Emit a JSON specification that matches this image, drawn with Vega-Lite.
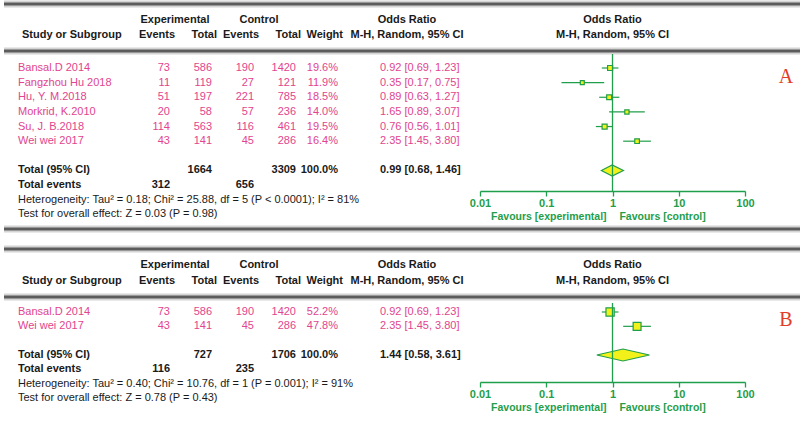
{
  "$schema": "https://vega.github.io/schema/vega-lite/v6.json",
  "padding": 0,
  "background": "white",
  "spacing": 0,
  "bounds": "flush",
  "datasets": {
    "headers": [
      {"row": "h1", "col": "e_events", "text": "Experimental"},
      {"row": "h1", "col": "c_events", "text": "Control"},
      {"row": "h1", "col": "ci", "text": "Odds Ratio"},
      {"row": "h1", "col": "plot", "text": "Odds Ratio"},
      {"row": "h2", "col": "study", "text": "Study or Subgroup"},
      {"row": "h2", "col": "e_events", "text": "Events"},
      {"row": "h2", "col": "e_total", "text": "Total"},
      {"row": "h2", "col": "c_events", "text": "Events"},
      {"row": "h2", "col": "c_total", "text": "Total"},
      {"row": "h2", "col": "weight", "text": "Weight"},
      {"row": "h2", "col": "ci", "text": "M-H, Random, 95% CI"},
      {"row": "h2", "col": "plot", "text": "M-H, Random, 95% CI"}
    ],
    "studiesA": [
      {"study": "Bansal.D 2014", "e_events": 73, "e_total": 586, "c_events": 190, "c_total": 1420, "weight": 0.196, "or": 0.92, "lo": 0.69, "hi": 1.23},
      {"study": "Fangzhou Hu 2018", "e_events": 11, "e_total": 119, "c_events": 27, "c_total": 121, "weight": 0.119, "or": 0.35, "lo": 0.17, "hi": 0.75},
      {"study": "Hu, Y. M.2018", "e_events": 51, "e_total": 197, "c_events": 221, "c_total": 785, "weight": 0.185, "or": 0.89, "lo": 0.63, "hi": 1.27},
      {"study": "Morkrid, K.2010", "e_events": 20, "e_total": 58, "c_events": 57, "c_total": 236, "weight": 0.14, "or": 1.65, "lo": 0.89, "hi": 3.07},
      {"study": "Su, J. B.2018", "e_events": 114, "e_total": 563, "c_events": 116, "c_total": 461, "weight": 0.195, "or": 0.76, "lo": 0.56, "hi": 1.01},
      {"study": "Wei wei 2017", "e_events": 43, "e_total": 141, "c_events": 45, "c_total": 286, "weight": 0.164, "or": 2.35, "lo": 1.45, "hi": 3.8}
    ],
    "summaryA": [
      {"row": "total", "label": "Total (95% CI)", "e_total": 1664, "c_total": 3309, "weight": 1.0, "or": 0.99, "lo": 0.68, "hi": 1.46},
      {"row": "events", "label": "Total events", "e_events": 312, "c_events": 656}
    ],
    "notesA": [
      {"row": "het", "text": "Heterogeneity: Tau² = 0.18; Chi² = 25.88, df = 5 (P < 0.0001); I² = 81%"},
      {"row": "test", "text": "Test for overall effect: Z = 0.03 (P = 0.98)"}
    ],
    "studiesB": [
      {"study": "Bansal.D 2014", "e_events": 73, "e_total": 586, "c_events": 190, "c_total": 1420, "weight": 0.522, "or": 0.92, "lo": 0.69, "hi": 1.23},
      {"study": "Wei wei 2017", "e_events": 43, "e_total": 141, "c_events": 45, "c_total": 286, "weight": 0.478, "or": 2.35, "lo": 1.45, "hi": 3.8}
    ],
    "summaryB": [
      {"row": "total", "label": "Total (95% CI)", "e_total": 727, "c_total": 1706, "weight": 1.0, "or": 1.44, "lo": 0.58, "hi": 3.61},
      {"row": "events", "label": "Total events", "e_events": 116, "c_events": 235}
    ],
    "notesB": [
      {"row": "het", "text": "Heterogeneity: Tau² = 0.40; Chi² = 10.76, df = 1 (P = 0.001); I² = 91%"},
      {"row": "test", "text": "Test for overall effect: Z = 0.78 (P = 0.43)"}
    ]
  },
  "vconcat": [
    {
      "width": 800,
      "height": 53,
      "data": {"name": "headers"},
      "layer": [
        {"data": {"values": [{"row": "top"}, {"row": "hr"}]}, "mark": {"type": "rule", "color": "#d4d4d4", "strokeWidth": 7},
          "encoding": {"y": {"field": "row", "type": "nominal", "scale": {"type": "point", "domain": ["top", "h1", "h2", "hr"], "range": [3, 50], "padding": 0}, "axis": null}}},
        {"data": {"values": [{"row": "top"}, {"row": "hr"}]}, "mark": {"type": "rule", "color": "#5c5c5c", "strokeWidth": 3},
          "encoding": {"y": {"field": "row", "type": "nominal", "axis": null}}},
        {"layer": [
          {"transform": [{"filter": "datum.col === 'study'"}], "mark": {"type": "text", "align": "left", "fontWeight": "bold", "color": "#1a1a1a"},
            "encoding": {"x": {"field": "col", "type": "nominal", "scale": {"type": "point", "domain": ["study", "ci"], "range": [18, 403], "padding": 0}, "axis": null}, "y": {"field": "row", "type": "nominal", "axis": null}, "text": {"field": "text"}}},
          {"transform": [{"filter": "datum.col === 'ci'"}], "mark": {"type": "text", "align": "center", "fontWeight": "bold", "color": "#1a1a1a"},
            "encoding": {"x": {"field": "col", "type": "nominal", "axis": null}, "y": {"field": "row", "type": "nominal", "axis": null}, "text": {"field": "text"}}}
        ]},
        {"layer": [
          {"transform": [{"filter": "datum.row === 'h1' && indexof(['e_events','c_events'], datum.col) >= 0"}], "mark": {"type": "text", "align": "center", "fontWeight": "bold", "color": "#1a1a1a"},
            "encoding": {"x": {"field": "col", "type": "nominal", "scale": {"type": "point", "domain": ["e_events", "e_total", "c_events", "c_total", "weight"], "range": [171, 339], "padding": 0}, "axis": null}, "y": {"field": "row", "type": "nominal", "axis": null}, "text": {"field": "text"}}},
          {"transform": [{"filter": "datum.row === 'h2' && indexof(['e_events','e_total','c_events','c_total','weight'], datum.col) >= 0"}], "mark": {"type": "text", "align": "right", "fontWeight": "bold", "color": "#1a1a1a"},
            "encoding": {"x": {"field": "col", "type": "nominal", "axis": null}, "y": {"field": "row", "type": "nominal", "axis": null}, "text": {"field": "text"}}}
        ]},
        {"transform": [{"filter": "datum.col === 'plot'"}], "mark": {"type": "text", "align": "center", "fontWeight": "bold", "color": "#1a1a1a"},
          "encoding": {"x": {"datum": 1, "type": "quantitative", "scale": {"type": "log", "domain": [0.01, 100], "range": [476, 741], "nice": false}, "axis": null}, "y": {"field": "row", "type": "nominal", "axis": null}, "text": {"field": "text"}}}
      ],
      "resolve": {"scale": {"x": "independent"}}
    },
    {
      "width": 800,
      "height": 137,
      "layer": [
        {"data": {"values": [{"row": "end"}]}, "mark": {"type": "rule", "color": "#d4d4d4", "strokeWidth": 7},
          "encoding": {"y": {"field": "row", "type": "nominal", "scale": {"type": "point", "domain": ["Bansal.D 2014", "Fangzhou Hu 2018", "Hu, Y. M.2018", "Morkrid, K.2010", "Su, J. B.2018", "Wei wei 2017", "gap", "total", "events", "het", "test", "end"], "range": [14, 175], "padding": 0}, "axis": null}}},
        {"data": {"values": [{"row": "end"}]}, "mark": {"type": "rule", "color": "#5c5c5c", "strokeWidth": 3},
          "encoding": {"y": {"field": "row", "type": "nominal", "axis": null}}},
        {"layer": [
          {"data": {"name": "studiesA"}, "mark": {"type": "text", "align": "left", "color": "#e2448e"},
            "encoding": {"x": {"datum": "label", "type": "nominal", "scale": {"type": "point", "domain": ["label", "tag"], "range": [14, 782], "padding": 0}, "axis": null}, "y": {"field": "study", "type": "nominal", "axis": null}, "text": {"field": "study"}}},
          {"data": {"name": "summaryA"}, "mark": {"type": "text", "align": "left", "fontWeight": "bold", "color": "#1a1a1a"},
            "encoding": {"x": {"datum": "label", "type": "nominal", "axis": null}, "y": {"field": "row", "type": "nominal", "axis": null}, "text": {"field": "label"}}},
          {"data": {"name": "notesA"}, "mark": {"type": "text", "align": "left", "color": "#1a1a1a"},
            "encoding": {"x": {"datum": "label", "type": "nominal", "axis": null}, "y": {"field": "row", "type": "nominal", "axis": null}, "text": {"field": "text"}}},
          {"data": {"values": [{"panel": "A"}]}, "mark": {"type": "text", "align": "center", "baseline": "alphabetic", "font": "Liberation Serif", "fontSize": 20, "color": "#e23d28"},
            "encoding": {"x": {"datum": "tag", "type": "nominal", "axis": null}, "y": {"datum": "Fangzhou Hu 2018", "type": "nominal", "axis": null}, "text": {"field": "panel"}}}
        ]},
        {"layer": [
          {"data": {"name": "studiesA"}, "transform": [{"fold": ["e_events", "e_total", "c_events", "c_total"]}], "mark": {"type": "text", "align": "right", "color": "#e2448e"},
            "encoding": {"x": {"field": "key", "type": "nominal", "scale": {"type": "point", "domain": ["e_events", "e_total", "c_events", "c_total", "weight", "ci"], "range": [166, 376], "padding": 0}, "axis": null}, "y": {"field": "study", "type": "nominal", "axis": null}, "text": {"field": "value", "type": "quantitative", "format": "d"}}},
          {"data": {"name": "studiesA"}, "mark": {"type": "text", "align": "right", "color": "#e2448e"},
            "encoding": {"x": {"datum": "weight", "type": "nominal", "axis": null}, "y": {"field": "study", "type": "nominal", "axis": null}, "text": {"field": "weight", "type": "quantitative", "format": ".1%"}}},
          {"data": {"name": "studiesA"}, "transform": [{"calculate": "format(datum.or, '.2f') + ' [' + format(datum.lo, '.2f') + ', ' + format(datum.hi, '.2f') + ']'", "as": "ci_label"}], "mark": {"type": "text", "align": "left", "color": "#e2448e"},
            "encoding": {"x": {"datum": "ci", "type": "nominal", "axis": null}, "y": {"field": "study", "type": "nominal", "axis": null}, "text": {"field": "ci_label"}}},
          {"data": {"name": "summaryA"}, "transform": [{"fold": ["e_events", "e_total", "c_events", "c_total"]}, {"filter": {"field": "value", "valid": true}}], "mark": {"type": "text", "align": "right", "fontWeight": "bold", "color": "#1a1a1a"},
            "encoding": {"x": {"field": "key", "type": "nominal", "axis": null}, "y": {"field": "row", "type": "nominal", "axis": null}, "text": {"field": "value", "type": "quantitative", "format": "d"}}},
          {"data": {"name": "summaryA"}, "transform": [{"filter": "datum.weight != null"}], "mark": {"type": "text", "align": "right", "fontWeight": "bold", "color": "#1a1a1a"},
            "encoding": {"x": {"datum": "weight", "type": "nominal", "axis": null}, "y": {"field": "row", "type": "nominal", "axis": null}, "text": {"field": "weight", "type": "quantitative", "format": ".1%"}}},
          {"data": {"name": "summaryA"}, "transform": [{"filter": "datum.or != null"}, {"calculate": "format(datum.or, '.2f') + ' [' + format(datum.lo, '.2f') + ', ' + format(datum.hi, '.2f') + ']'", "as": "ci_label"}], "mark": {"type": "text", "align": "left", "fontWeight": "bold", "color": "#1a1a1a"},
            "encoding": {"x": {"datum": "ci", "type": "nominal", "axis": null}, "y": {"field": "row", "type": "nominal", "axis": null}, "text": {"field": "ci_label"}}}
        ]},
        {"layer": [
          {"layer": [
            {"data": {"name": "studiesA"}, "mark": {"type": "rule", "color": "#1f9e4b", "strokeWidth": 1.2},
              "encoding": {"x": {"field": "lo", "type": "quantitative", "title": null, "scale": {"type": "log", "domain": [0.01, 100], "range": [476, 741], "nice": false},
                "axis": {"orient": "bottom", "values": [0.01, 0.1, 1, 10, 100], "format": "~g", "grid": false, "title": null, "domainColor": "#1f9e4b", "domainWidth": 1.3, "tickColor": "#1f9e4b", "tickWidth": 1.3, "tickSize": 5, "labelColor": "#1f9e4b", "labelFont": "Liberation Sans", "labelFontSize": 11, "labelFontWeight": "bold", "labelPadding": 1, "labelFlush": false, "labelOverlap": false, "labelBound": false}},
                "x2": {"field": "hi"}, "y": {"field": "study", "type": "nominal", "axis": null}}},
            {"data": {"name": "studiesA"}, "mark": {"type": "point", "shape": "square", "filled": true, "fill": "#f2f21a", "stroke": "#1f9e4b", "strokeWidth": 1.2, "opacity": 1},
              "encoding": {"x": {"field": "or", "type": "quantitative", "title": null}, "y": {"field": "study", "type": "nominal", "axis": null}, "size": {"field": "weight", "type": "quantitative", "scale": {"domain": [0, 1], "range": [0, 130]}, "legend": null}}},
            {"data": {"name": "summaryA"}, "transform": [{"filter": "datum.row === 'total'"}, {"fold": ["lo", "or", "hi"], "as": ["pt", "val"]}],
              "mark": {"type": "area", "orient": "vertical", "fill": "#f2f21a", "stroke": "#1f9e4b", "strokeWidth": 1.2, "opacity": 1, "yOffset": {"expr": "datum.pt === 'or' ? -5.5 : 0"}, "y2Offset": {"expr": "datum.pt === 'or' ? 5.5 : 0"}},
              "encoding": {"x": {"field": "val", "type": "quantitative", "title": null, "stack": null}, "y": {"field": "row", "type": "nominal", "axis": null}, "y2": {"field": "row"}}}
          ]},
          {"data": {"values": [{}]}, "mark": {"type": "rule", "color": "#1f9e4b", "strokeWidth": 1.3},
            "encoding": {"x": {"datum": 1, "type": "quantitative", "scale": {"type": "log", "domain": [0.01, 100], "range": [476, 741], "nice": false},
              "axis": {"orient": "bottom", "values": [0.8, 1.25], "labelExpr": "datum.value < 1 ? 'Favours [experimental]' : 'Favours [control]'", "labelAlign": {"condition": {"test": "datum.value < 1", "value": "right"}, "value": "left"}, "domain": false, "ticks": false, "tickSize": 0, "grid": false, "title": null, "labelColor": "#1f9e4b", "labelFont": "Liberation Sans", "labelFontSize": 10.5, "labelFontWeight": "bold", "labelPadding": 20, "labelOverlap": false, "labelFlush": false, "labelBound": false}}}}
        ], "resolve": {"scale": {"x": "independent"}, "axis": {"x": "independent"}}}
      ],
      "resolve": {"scale": {"x": "independent"}, "axis": {"x": "independent"}}
    },
    {
      "width": 800,
      "height": 112,
      "data": {"name": "headers"},
      "layer": [
        {"data": {"values": [{"row": "top"}, {"row": "hr"}]}, "mark": {"type": "rule", "color": "#d4d4d4", "strokeWidth": 7},
          "encoding": {"y": {"field": "row", "type": "nominal", "scale": {"type": "point", "domain": ["top", "h1", "h2", "hr"], "range": [58, 106], "padding": 0}, "axis": null}}},
        {"data": {"values": [{"row": "top"}, {"row": "hr"}]}, "mark": {"type": "rule", "color": "#5c5c5c", "strokeWidth": 3},
          "encoding": {"y": {"field": "row", "type": "nominal", "axis": null}}},
        {"layer": [
          {"transform": [{"filter": "datum.col === 'study'"}], "mark": {"type": "text", "align": "left", "fontWeight": "bold", "color": "#1a1a1a"},
            "encoding": {"x": {"field": "col", "type": "nominal", "scale": {"type": "point", "domain": ["study", "ci"], "range": [18, 403], "padding": 0}, "axis": null}, "y": {"field": "row", "type": "nominal", "axis": null}, "text": {"field": "text"}}},
          {"transform": [{"filter": "datum.col === 'ci'"}], "mark": {"type": "text", "align": "center", "fontWeight": "bold", "color": "#1a1a1a"},
            "encoding": {"x": {"field": "col", "type": "nominal", "axis": null}, "y": {"field": "row", "type": "nominal", "axis": null}, "text": {"field": "text"}}}
        ]},
        {"layer": [
          {"transform": [{"filter": "datum.row === 'h1' && indexof(['e_events','c_events'], datum.col) >= 0"}], "mark": {"type": "text", "align": "center", "fontWeight": "bold", "color": "#1a1a1a"},
            "encoding": {"x": {"field": "col", "type": "nominal", "scale": {"type": "point", "domain": ["e_events", "e_total", "c_events", "c_total", "weight"], "range": [171, 339], "padding": 0}, "axis": null}, "y": {"field": "row", "type": "nominal", "axis": null}, "text": {"field": "text"}}},
          {"transform": [{"filter": "datum.row === 'h2' && indexof(['e_events','e_total','c_events','c_total','weight'], datum.col) >= 0"}], "mark": {"type": "text", "align": "right", "fontWeight": "bold", "color": "#1a1a1a"},
            "encoding": {"x": {"field": "col", "type": "nominal", "axis": null}, "y": {"field": "row", "type": "nominal", "axis": null}, "text": {"field": "text"}}}
        ]},
        {"transform": [{"filter": "datum.col === 'plot'"}], "mark": {"type": "text", "align": "center", "fontWeight": "bold", "color": "#1a1a1a"},
          "encoding": {"x": {"datum": 1, "type": "quantitative", "scale": {"type": "log", "domain": [0.01, 100], "range": [476, 741], "nice": false}, "axis": null}, "y": {"field": "row", "type": "nominal", "axis": null}, "text": {"field": "text"}}}
      ],
      "resolve": {"scale": {"x": "independent"}}
    },
    {
      "width": 800,
      "height": 79,
      "layer": [
        {"layer": [
          {"data": {"name": "studiesB"}, "mark": {"type": "text", "align": "left", "color": "#e2448e"},
            "encoding": {"x": {"datum": "label", "type": "nominal", "scale": {"type": "point", "domain": ["label", "tag"], "range": [14, 782], "padding": 0}, "axis": null}, "y": {"field": "study", "type": "nominal", "scale": {"type": "point", "domain": ["Bansal.D 2014", "Wei wei 2017", "gap", "total", "events", "het", "test"], "range": [9, 95], "padding": 0}, "axis": null}, "text": {"field": "study"}}},
          {"data": {"name": "summaryB"}, "mark": {"type": "text", "align": "left", "fontWeight": "bold", "color": "#1a1a1a"},
            "encoding": {"x": {"datum": "label", "type": "nominal", "axis": null}, "y": {"field": "row", "type": "nominal", "axis": null}, "text": {"field": "label"}}},
          {"data": {"name": "notesB"}, "mark": {"type": "text", "align": "left", "color": "#1a1a1a"},
            "encoding": {"x": {"datum": "label", "type": "nominal", "axis": null}, "y": {"field": "row", "type": "nominal", "axis": null}, "text": {"field": "text"}}},
          {"data": {"values": [{"panel": "B"}]}, "mark": {"type": "text", "align": "center", "baseline": "alphabetic", "font": "Liberation Serif", "fontSize": 20, "color": "#e23d28"},
            "encoding": {"x": {"datum": "tag", "type": "nominal", "axis": null}, "y": {"datum": "Wei wei 2017", "type": "nominal", "axis": null}, "text": {"field": "panel"}}}
        ]},
        {"layer": [
          {"data": {"name": "studiesB"}, "transform": [{"fold": ["e_events", "e_total", "c_events", "c_total"]}], "mark": {"type": "text", "align": "right", "color": "#e2448e"},
            "encoding": {"x": {"field": "key", "type": "nominal", "scale": {"type": "point", "domain": ["e_events", "e_total", "c_events", "c_total", "weight", "ci"], "range": [166, 376], "padding": 0}, "axis": null}, "y": {"field": "study", "type": "nominal", "axis": null}, "text": {"field": "value", "type": "quantitative", "format": "d"}}},
          {"data": {"name": "studiesB"}, "mark": {"type": "text", "align": "right", "color": "#e2448e"},
            "encoding": {"x": {"datum": "weight", "type": "nominal", "axis": null}, "y": {"field": "study", "type": "nominal", "axis": null}, "text": {"field": "weight", "type": "quantitative", "format": ".1%"}}},
          {"data": {"name": "studiesB"}, "transform": [{"calculate": "format(datum.or, '.2f') + ' [' + format(datum.lo, '.2f') + ', ' + format(datum.hi, '.2f') + ']'", "as": "ci_label"}], "mark": {"type": "text", "align": "left", "color": "#e2448e"},
            "encoding": {"x": {"datum": "ci", "type": "nominal", "axis": null}, "y": {"field": "study", "type": "nominal", "axis": null}, "text": {"field": "ci_label"}}},
          {"data": {"name": "summaryB"}, "transform": [{"fold": ["e_events", "e_total", "c_events", "c_total"]}, {"filter": {"field": "value", "valid": true}}], "mark": {"type": "text", "align": "right", "fontWeight": "bold", "color": "#1a1a1a"},
            "encoding": {"x": {"field": "key", "type": "nominal", "axis": null}, "y": {"field": "row", "type": "nominal", "axis": null}, "text": {"field": "value", "type": "quantitative", "format": "d"}}},
          {"data": {"name": "summaryB"}, "transform": [{"filter": "datum.weight != null"}], "mark": {"type": "text", "align": "right", "fontWeight": "bold", "color": "#1a1a1a"},
            "encoding": {"x": {"datum": "weight", "type": "nominal", "axis": null}, "y": {"field": "row", "type": "nominal", "axis": null}, "text": {"field": "weight", "type": "quantitative", "format": ".1%"}}},
          {"data": {"name": "summaryB"}, "transform": [{"filter": "datum.or != null"}, {"calculate": "format(datum.or, '.2f') + ' [' + format(datum.lo, '.2f') + ', ' + format(datum.hi, '.2f') + ']'", "as": "ci_label"}], "mark": {"type": "text", "align": "left", "fontWeight": "bold", "color": "#1a1a1a"},
            "encoding": {"x": {"datum": "ci", "type": "nominal", "axis": null}, "y": {"field": "row", "type": "nominal", "axis": null}, "text": {"field": "ci_label"}}}
        ]},
        {"layer": [
          {"layer": [
            {"data": {"name": "studiesB"}, "mark": {"type": "rule", "color": "#1f9e4b", "strokeWidth": 1.2},
              "encoding": {"x": {"field": "lo", "type": "quantitative", "title": null, "scale": {"type": "log", "domain": [0.01, 100], "range": [476, 741], "nice": false},
                "axis": {"orient": "bottom", "values": [0.01, 0.1, 1, 10, 100], "format": "~g", "grid": false, "title": null, "domainColor": "#1f9e4b", "domainWidth": 1.3, "tickColor": "#1f9e4b", "tickWidth": 1.3, "tickSize": 5, "labelColor": "#1f9e4b", "labelFont": "Liberation Sans", "labelFontSize": 11, "labelFontWeight": "bold", "labelPadding": 1, "labelFlush": false, "labelOverlap": false, "labelBound": false}},
                "x2": {"field": "hi"}, "y": {"field": "study", "type": "nominal", "axis": null}}},
            {"data": {"name": "studiesB"}, "mark": {"type": "point", "shape": "square", "filled": true, "fill": "#f2f21a", "stroke": "#1f9e4b", "strokeWidth": 1.2, "opacity": 1},
              "encoding": {"x": {"field": "or", "type": "quantitative", "title": null}, "y": {"field": "study", "type": "nominal", "axis": null}, "size": {"field": "weight", "type": "quantitative", "scale": {"domain": [0, 1], "range": [0, 130]}, "legend": null}}},
            {"data": {"name": "summaryB"}, "transform": [{"filter": "datum.row === 'total'"}, {"fold": ["lo", "or", "hi"], "as": ["pt", "val"]}],
              "mark": {"type": "area", "orient": "vertical", "fill": "#f2f21a", "stroke": "#1f9e4b", "strokeWidth": 1.2, "opacity": 1, "yOffset": {"expr": "datum.pt === 'or' ? -6 : 0"}, "y2Offset": {"expr": "datum.pt === 'or' ? 6 : 0"}},
              "encoding": {"x": {"field": "val", "type": "quantitative", "title": null, "stack": null}, "y": {"field": "row", "type": "nominal", "axis": null}, "y2": {"field": "row"}}}
          ]},
          {"data": {"values": [{}]}, "mark": {"type": "rule", "color": "#1f9e4b", "strokeWidth": 1.3},
            "encoding": {"x": {"datum": 1, "type": "quantitative", "scale": {"type": "log", "domain": [0.01, 100], "range": [476, 741], "nice": false},
              "axis": {"orient": "bottom", "values": [0.8, 1.25], "labelExpr": "datum.value < 1 ? 'Favours [experimental]' : 'Favours [control]'", "labelAlign": {"condition": {"test": "datum.value < 1", "value": "right"}, "value": "left"}, "domain": false, "ticks": false, "tickSize": 0, "grid": false, "title": null, "labelColor": "#1f9e4b", "labelFont": "Liberation Sans", "labelFontSize": 10.5, "labelFontWeight": "bold", "labelPadding": 20, "labelOverlap": false, "labelFlush": false, "labelBound": false}}}}
        ], "resolve": {"scale": {"x": "independent"}, "axis": {"x": "independent"}}}
      ],
      "resolve": {"scale": {"x": "independent"}, "axis": {"x": "independent"}}
    }
  ],
  "config": {
    "font": "Liberation Sans",
    "view": {"stroke": null},
    "text": {"font": "Liberation Sans", "fontSize": 11},
    "concat": {"spacing": 0}
  }
}
